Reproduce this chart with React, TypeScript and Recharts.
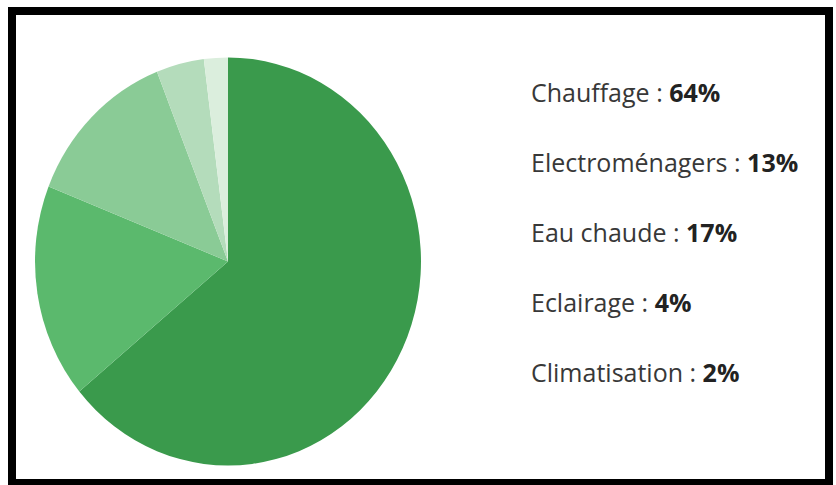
import { Cell, Pie, PieChart } from "recharts"

// slices, clockwise from 12 o'clock
const categories = ["Chauffage", "Eau chaude", "Electroménagers", "Eclairage", "Climatisation"]
const shares = [64, 17, 13, 4, 2]
const sliceColors = ["#3a9a4c", "#5bb96d", "#8acb96", "#b4dcbb", "#dbeedd"]

// text list on the right, top to bottom
const listOrder = ["Chauffage", "Electroménagers", "Eau chaude", "Eclairage", "Climatisation"]

const chartData = categories.map((name, i) => ({ name, value: shares[i] }))

const CX = 228
const CY = 261.5
const ROW_TOPS = [75, 145, 215, 285, 355]

export default function App() {
    return (
        <div style={{ position: "fixed", left: 0, top: 0, width: 836, height: 485, background: "#fff", overflow: "hidden" }}>
            <div
                style={{
                    position: "absolute",
                    left: 8,
                    top: 7,
                    width: 825,
                    height: 478,
                    boxSizing: "border-box",
                    border: "8px solid #000",
                    borderBottomWidth: 6,
                }}
            />
            {/* pie is slightly taller than wide in the picture */}
            <div
                style={{
                    position: "absolute",
                    left: 0,
                    top: 0,
                    width: 460,
                    height: 485,
                    transform: "scaleX(0.946)",
                    transformOrigin: `${CX}px ${CY}px`,
                }}
            >
                <PieChart width={460} height={485} margin={{ top: 0, right: 0, bottom: 0, left: 0 }}>
                    <Pie
                        data={chartData}
                        dataKey="value"
                        nameKey="name"
                        cx={CX}
                        cy={CY}
                        outerRadius={204}
                        startAngle={90}
                        endAngle={-270}
                        stroke="none"
                        isAnimationActive={false}
                    >
                        {chartData.map((entry, index) => (
                            <Cell key={`cell-${index}`} fill={sliceColors[index]} />
                        ))}
                    </Pie>
                </PieChart>
            </div>
            {listOrder.map((name, i) => (
                <div
                    key={name}
                    style={{
                        position: "absolute",
                        left: 531,
                        top: ROW_TOPS[i],
                        height: 34,
                        lineHeight: "34px",
                        fontFamily: "'Open Sans', sans-serif",
                        fontSize: 25,
                        color: "#383838",
                        whiteSpace: "nowrap",
                    }}
                >
                    {name} : <b style={{ color: "#222" }}>{shares[categories.indexOf(name)]}%</b>
                </div>
            ))}
        </div>
    )
}
